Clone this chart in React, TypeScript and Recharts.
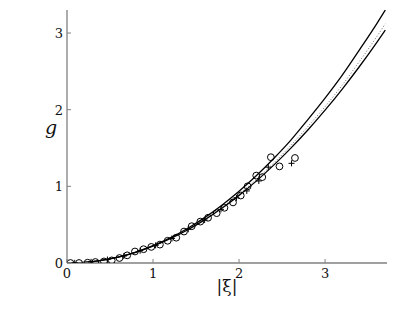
import React from "react";
import {
  ComposedChart,
  Line,
  Scatter,
  XAxis,
  YAxis,
} from "recharts";

// curve sample points
const curveXi = [0, 0.2, 0.4, 0.6, 0.8, 1.0, 1.2, 1.4, 1.6, 1.8, 2.0, 2.2, 2.4, 2.6, 2.8, 3.0, 3.2, 3.4, 3.6, 3.7];
const upperG = [0, 0.008, 0.035, 0.079, 0.143, 0.226, 0.328, 0.45, 0.592, 0.754, 0.936, 1.138, 1.36, 1.6, 1.87, 2.15, 2.45, 2.78, 3.12, 3.3];
const lowerG = [0, 0.009, 0.035, 0.078, 0.14, 0.219, 0.316, 0.431, 0.563, 0.714, 0.882, 1.068, 1.273, 1.495, 1.735, 1.993, 2.269, 2.563, 2.875, 3.038];
const dottedG = [0, 0.008, 0.035, 0.078, 0.141, 0.221, 0.32, 0.437, 0.572, 0.726, 0.898, 1.089, 1.3, 1.53, 1.78, 2.04, 2.32, 2.63, 2.95, 3.12];

// circle markers
const circleXi = [0.04, 0.14, 0.24, 0.33, 0.43, 0.52, 0.61, 0.7, 0.79, 0.89, 0.98, 1.08, 1.17, 1.27, 1.36, 1.45, 1.55, 1.64, 1.74, 1.83, 1.93, 2.02, 2.1, 2.2, 2.27, 2.37, 2.47, 2.65];
const circleG = [0, 0, 0.004, 0.013, 0.02, 0.034, 0.065, 0.1, 0.15, 0.18, 0.21, 0.24, 0.29, 0.33, 0.41, 0.48, 0.54, 0.59, 0.65, 0.72, 0.79, 0.88, 1.0, 1.14, 1.12, 1.38, 1.26, 1.37];

// cross markers
const crossXi = [0.09, 0.28, 0.47, 0.66, 0.85, 1.03, 1.22, 1.41, 1.6, 1.79, 1.97, 2.09, 2.23, 2.34, 2.61];
const crossG = [0.002, 0.015, 0.045, 0.09, 0.16, 0.23, 0.32, 0.44, 0.56, 0.7, 0.85, 0.94, 1.07, 1.25, 1.3];

const xTicks = [0, 1, 2, 3];
const yTicks = [0, 1, 2, 3];

const zip = (xs: number[], ys: number[]) => xs.map((x, i) => ({ x, y: ys[i] }));

const upperData = zip(curveXi, upperG);
const lowerData = zip(curveXi, lowerG);
const dottedData = zip(curveXi, dottedG);
const circleData = zip(circleXi, circleG);
const crossData = zip(crossXi, crossG);

const FRAME = "#808080";
const SERIF = "'DejaVu Serif', 'Liberation Serif', serif";

const BottomTick = (props: any) => {
  const { x, y, payload } = props;
  return (
    <g>
      <line x1={x} x2={x} y1={y} y2={y - 4} stroke={FRAME} />
      <text x={x} y={y + 14.5} textAnchor="middle" fontFamily={SERIF} fontSize={13} fill="#111">
        {payload.value}
      </text>
    </g>
  );
};

const LeftTick = (props: any) => {
  const { x, y, payload } = props;
  return (
    <g>
      <line x1={x} x2={x + 4} y1={y} y2={y} stroke={FRAME} />
      <text x={x - 4} y={y + 5} textAnchor="end" fontFamily={SERIF} fontSize={13} fill="#111">
        {payload.value}
      </text>
    </g>
  );
};

const TopTick = (props: any) => {
  const { x, y } = props;
  return <line x1={x} x2={x} y1={y} y2={y + 4} stroke={FRAME} />;
};

const RightTick = (props: any) => {
  const { x, y } = props;
  return <line x1={x} x2={x - 4} y1={y} y2={y} stroke={FRAME} />;
};

const Circle = (props: any) => (
  <circle cx={props.cx} cy={props.cy} r={3.4} fill="none" stroke="#000" strokeWidth={1} />
);

const Cross = (props: any) => {
  const { cx, cy } = props;
  return (
    <g stroke="#000" strokeWidth={1}>
      <line x1={cx - 3} x2={cx + 3} y1={cy} y2={cy} />
      <line x1={cx} x2={cx} y1={cy - 3} y2={cy + 3} />
    </g>
  );
};

export default function App() {
  return (
    <div style={{ position: "absolute", left: 0, top: 0, background: "#fff" }}>
      <ComposedChart width={413} height={311} margin={{ top: 10, right: 26, bottom: 18, left: 37 }}>
        <XAxis
          xAxisId="b"
          type="number"
          dataKey="x"
          domain={[0, 3.72]}
          ticks={xTicks}
          allowDataOverflow
          height={30}
          tickSize={0}
          tickMargin={0}
          tickLine={false}
          tick={<BottomTick />}
          axisLine={{ stroke: FRAME, strokeWidth: 1.3 }}
          label={{
            content: (p: any) => (
              <text
                x={p.viewBox.x + p.viewBox.width / 2}
                y={p.viewBox.y + 29}
                textAnchor="middle"
                fontFamily={SERIF}
                fontSize={17}
                fill="#111"
              >
                |ξ|
              </text>
            ),
          }}
        />
        <XAxis
          xAxisId="t"
          orientation="top"
          type="number"
          dataKey="x"
          domain={[0, 3.72]}
          ticks={xTicks}
          allowDataOverflow
          height={0}
          tickSize={0}
          tickMargin={0}
          tickLine={false}
          tick={<TopTick />}
          axisLine={{ stroke: FRAME, strokeWidth: 1.3 }}
        />
        <YAxis
          yAxisId="l"
          type="number"
          domain={[0, 3.3]}
          ticks={yTicks}
          allowDataOverflow
          width={30}
          tickSize={0}
          tickMargin={0}
          tickLine={false}
          tick={<LeftTick />}
          axisLine={{ stroke: FRAME, strokeWidth: 1.3 }}
          label={{
            content: (p: any) => (
              <text
                x={p.viewBox.x + 8}
                y={p.viewBox.y + 124}
                textAnchor="start"
                fontFamily={SERIF}
                fontStyle="italic"
                fontSize={19}
                fill="#111"
              >
                g
              </text>
            ),
          }}
        />
        <YAxis
          yAxisId="r"
          orientation="right"
          type="number"
          domain={[0, 3.3]}
          ticks={yTicks}
          allowDataOverflow
          width={0}
          tickSize={0}
          tickMargin={0}
          tickLine={false}
          tick={<RightTick />}
          axisLine={{ stroke: FRAME, strokeWidth: 1.3 }}
        />
        <Line
          xAxisId="b"
          yAxisId="l"
          data={dottedData}
          dataKey="y"
          type="monotone"
          stroke="#666"
          strokeWidth={1}
          strokeDasharray="1 2"
          dot={false}
          isAnimationActive={false}
        />
        <Line
          xAxisId="b"
          yAxisId="l"
          data={upperData}
          dataKey="y"
          type="monotone"
          stroke="#000"
          strokeWidth={1.3}
          dot={false}
          isAnimationActive={false}
        />
        <Line
          xAxisId="b"
          yAxisId="l"
          data={lowerData}
          dataKey="y"
          type="monotone"
          stroke="#000"
          strokeWidth={1.3}
          dot={false}
          isAnimationActive={false}
        />
        <Scatter
          xAxisId="b"
          yAxisId="l"
          data={crossData}
          dataKey="y"
          shape={<Cross />}
          isAnimationActive={false}
        />
        <Scatter
          xAxisId="b"
          yAxisId="l"
          data={circleData}
          dataKey="y"
          shape={<Circle />}
          isAnimationActive={false}
        />
      </ComposedChart>
    </div>
  );
}
